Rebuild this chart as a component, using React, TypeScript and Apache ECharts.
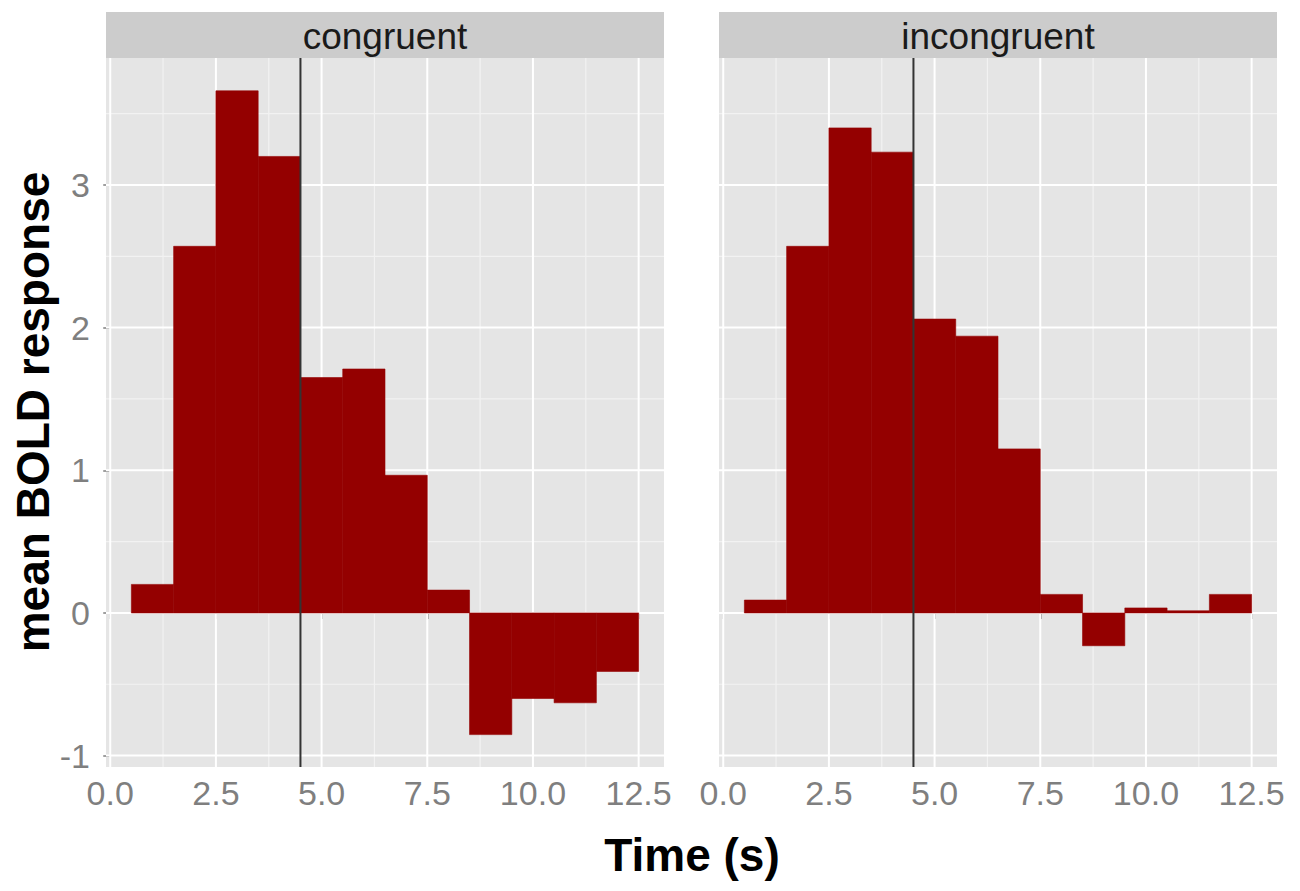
import React, { useEffect, useRef } from "react";
import * as echarts from "echarts";

const panelTitles = ["congruent", "incongruent"];
const times = [1, 2, 3, 4, 5, 6, 7, 8, 9, 10, 11, 12];
const congruentValues = [0.2, 2.57, 3.66, 3.2, 1.65, 1.71, 0.965, 0.16, -0.853, -0.6, -0.63, -0.41];
const incongruentValues = [0.09, 2.57, 3.4, 3.23, 2.06, 1.94, 1.15, 0.13, -0.23, 0.035, 0.015, 0.13];
const onsetTime = 4.5;
const xTicks = [0, 2.5, 5, 7.5, 10, 12.5];
const xTickLabels = ["0.0", "2.5", "5.0", "7.5", "10.0", "12.5"];
const xMinorGrid = [1.25, 3.75, 6.25, 8.75, 11.25];
const yTicks = [-1, 0, 1, 2, 3];
const yTickLabels = ["-1", "0", "1", "2", "3"];
const yMinorGrid = [-0.5, 0.5, 1.5, 2.5, 3.5];
const xRange = [-0.1, 13.1];
const yRange = [-1.08, 3.89];
const xTitle = "Time (s)";
const yTitle = "mean BOLD response";

const FONT = "'Liberation Sans', Arial, Helvetica, sans-serif";
const BAR_COLOR = "#940000";
const TICK_COLOR = "#7F7F7F";

export default function App() {
  const ref = useRef<HTMLDivElement>(null);

  useEffect(() => {
    if (!ref.current) return;
    const chart = echarts.init(ref.current, null, { renderer: "svg" });

    const grids = [
      { left: 106, top: 58, width: 558, height: 709 },
      { left: 719, top: 58, width: 558, height: 709 },
    ];
    const seriesValues = [congruentValues, incongruentValues];

    const gridData: number[][] = [
      ...xMinorGrid.map((v) => [v, 0, 0]),
      ...yMinorGrid.map((v) => [0, v, 1]),
      ...xTicks.map((v) => [v, 0, 2]),
      ...yTicks.map((v) => [0, v, 3]),
    ];

    const series: any[] = [];
    grids.forEach((_, i) => {
      series.push({
        type: "custom",
        xAxisIndex: i,
        yAxisIndex: i,
        z: 1,
        silent: true,
        dimensions: ["x", "y", "kind"],
        encode: { x: 0, y: 1 },
        data: gridData,
        renderItem: (params: any, api: any) => {
          const cs = params.coordSys;
          const kind = api.value(2);
          const major = kind >= 2;
          const stroke = major ? "#FFFFFF" : "#F2F2F2";
          const lineWidth = major ? 2 : 1.2;
          if (kind === 0 || kind === 2) {
            const px = api.coord([api.value(0), 0])[0];
            return {
              type: "line",
              shape: { x1: px, y1: cs.y, x2: px, y2: cs.y + cs.height },
              style: { stroke, lineWidth },
            };
          }
          const py = api.coord([0, api.value(1)])[1];
          return {
            type: "line",
            shape: { x1: cs.x, y1: py, x2: cs.x + cs.width, y2: py },
            style: { stroke, lineWidth },
          };
        },
      });
      series.push({
        type: "custom",
        name: panelTitles[i],
        xAxisIndex: i,
        yAxisIndex: i,
        z: 2,
        data: times.map((t, k) => [t, seriesValues[i][k]]),
        renderItem: (params: any, api: any) => {
          const t = api.value(0);
          const v = api.value(1);
          const p0 = api.coord([t - 0.5, 0]);
          const p1 = api.coord([t + 0.5, v]);
          return {
            type: "rect",
            shape: {
              x: p0[0],
              y: Math.min(p0[1], p1[1]),
              width: p1[0] - p0[0],
              height: Math.abs(p1[1] - p0[1]),
            },
            style: { fill: BAR_COLOR, stroke: BAR_COLOR, lineWidth: 0.6 },
          };
        },
      });
      series.push({
        type: "custom",
        xAxisIndex: i,
        yAxisIndex: i,
        z: 3,
        silent: true,
        data: [[onsetTime, 0]],
        renderItem: (params: any, api: any) => {
          const cs = params.coordSys;
          const px = api.coord([api.value(0), 0])[0];
          return {
            type: "line",
            shape: { x1: px, y1: cs.y, x2: px, y2: cs.y + cs.height },
            style: { stroke: "#333333", lineWidth: 2 },
          };
        },
      });
    });

    const option: any = {
      animation: false,
      grid: grids.map((g) => ({
        ...g,
        show: true,
        backgroundColor: "#E5E5E5",
        borderWidth: 0,
      })),
      xAxis: grids.map((_, i) => ({
        type: "value",
        gridIndex: i,
        min: xRange[0],
        max: xRange[1],
        axisLine: { show: false },
        splitLine: { show: false },
        axisTick: {
          show: true,
          customValues: xTicks,
          length: 6,
          lineStyle: { color: TICK_COLOR, width: 1.5 },
        },
        axisLabel: {
          customValues: xTicks,
          formatter: (v: number) => {
            const idx = xTicks.findIndex((t) => Math.abs(t - v) < 1e-9);
            return idx >= 0 ? xTickLabels[idx] : "";
          },
          color: TICK_COLOR,
          fontSize: 34,
          fontFamily: FONT,
          margin: 9,
        },
      })),
      yAxis: grids.map((_, i) => ({
        type: "value",
        gridIndex: i,
        min: yRange[0],
        max: yRange[1],
        axisLine: { show: false },
        splitLine: { show: false },
        axisTick: {
          show: i === 0,
          customValues: yTicks,
          length: 7,
          lineStyle: { color: TICK_COLOR, width: 1.5 },
        },
        axisLabel: {
          show: i === 0,
          customValues: yTicks,
          formatter: (v: number) => {
            const idx = yTicks.findIndex((t) => Math.abs(t - v) < 1e-9);
            return idx >= 0 ? yTickLabels[idx] : "";
          },
          color: TICK_COLOR,
          fontSize: 34,
          fontFamily: FONT,
          margin: 16,
        },
      })),
      graphic: [
        ...grids.map((g, i) => ({
          type: "group",
          children: [
            {
              type: "rect",
              shape: { x: g.left, y: 12, width: g.width, height: 46 },
              style: { fill: "#CCCCCC" },
            },
            {
              type: "text",
              x: g.left + g.width / 2,
              y: 36,
              style: {
                text: panelTitles[i],
                fontSize: 37,
                fontFamily: FONT,
                fill: "#1A1A1A",
                align: "center",
                verticalAlign: "middle",
              },
            },
          ],
        })),
        {
          type: "text",
          x: 692,
          y: 855,
          style: {
            text: xTitle,
            fontSize: 46,
            fontWeight: "bold",
            fontFamily: FONT,
            fill: "#000000",
            align: "center",
            verticalAlign: "middle",
          },
        },
        {
          type: "text",
          x: 33,
          y: 412,
          rotation: Math.PI / 2,
          style: {
            text: yTitle,
            fontSize: 46,
            fontWeight: "bold",
            fontFamily: FONT,
            fill: "#000000",
            align: "center",
            verticalAlign: "middle",
          },
        },
      ],
      series,
    };

    chart.setOption(option);
    return () => chart.dispose();
  }, []);

  return (
    <div
      ref={ref}
      style={{ position: "fixed", left: 0, top: 0, width: 1300, height: 891, background: "#FFFFFF" }}
    />
  );
}
